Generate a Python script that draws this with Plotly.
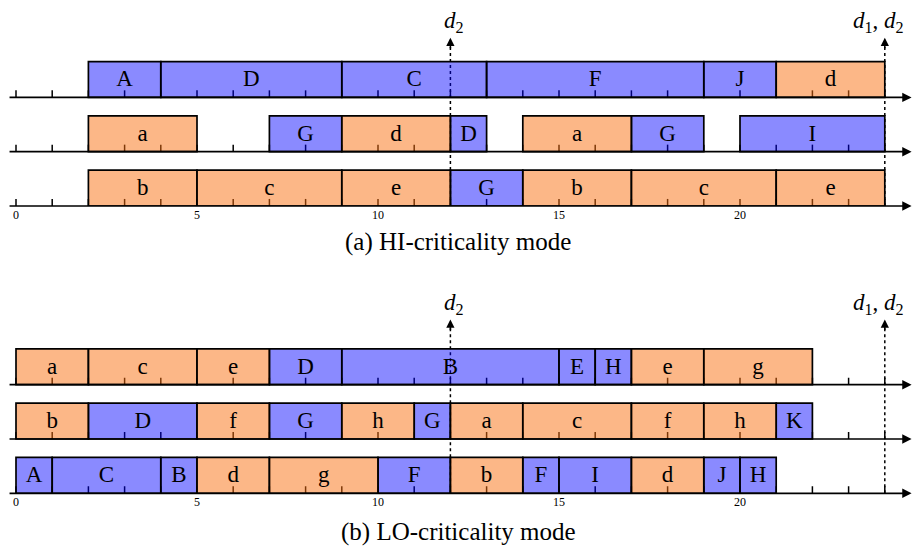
import plotly.graph_objects as go

# ---------------- data ----------------
# (a) HI-criticality mode: three processor rows, top to bottom
hi_row1_labels = ["A", "D", "C", "F", "J", "d"]
hi_row1_start = [2, 4, 9, 13, 19, 21]
hi_row1_end = [4, 9, 13, 19, 21, 24]

hi_row2_labels = ["a", "G", "d", "D", "a", "G", "I"]
hi_row2_start = [2, 7, 9, 12, 14, 17, 20]
hi_row2_end = [5, 9, 12, 13, 17, 19, 24]

hi_row3_labels = ["b", "c", "e", "G", "b", "c", "e"]
hi_row3_start = [2, 5, 9, 12, 14, 17, 21]
hi_row3_end = [5, 9, 12, 14, 17, 21, 24]

# (b) LO-criticality mode
lo_row1_labels = ["a", "c", "e", "D", "B", "E", "H", "e", "g"]
lo_row1_start = [0, 2, 5, 7, 9, 15, 16, 17, 19]
lo_row1_end = [2, 5, 7, 9, 15, 16, 17, 19, 22]

lo_row2_labels = ["b", "D", "f", "G", "h", "G", "a", "c", "f", "h", "K"]
lo_row2_start = [0, 2, 5, 7, 9, 11, 12, 14, 17, 19, 21]
lo_row2_end = [2, 5, 7, 9, 11, 12, 14, 17, 19, 21, 22]

lo_row3_labels = ["A", "C", "B", "d", "g", "F", "b", "F", "I", "d", "J", "H"]
lo_row3_start = [0, 1, 4, 5, 7, 10, 12, 14, 15, 17, 19, 20]
lo_row3_end = [1, 4, 5, 7, 10, 12, 14, 15, 17, 19, 20, 21]

time_ticks = list(range(0, 25))
tick_labels = [0, 5, 10, 15, 20]
deadlines_d2 = 12
deadlines_d1d2 = 24
captions = ["(a) HI-criticality mode", "(b) LO-criticality mode"]

# ---------------- styling ----------------
FONT = "Liberation Serif"
HI_FILL = "rgba(0,0,255,0.46)"
LO_FILL = "rgba(250,112,16,0.5)"
BOX_H = 0.66
TICK_H = 0.13

panels = [
    dict(rows=[(hi_row1_labels, hi_row1_start, hi_row1_end),
               (hi_row2_labels, hi_row2_start, hi_row2_end),
               (hi_row3_labels, hi_row3_start, hi_row3_end)],
         xa="x", ya="y", tip=-1.10, caption=captions[0], cap_y=1 - 242 / 554),
    dict(rows=[(lo_row1_labels, lo_row1_start, lo_row1_end),
               (lo_row2_labels, lo_row2_start, lo_row2_end),
               (lo_row3_labels, lo_row3_start, lo_row3_end)],
         xa="x2", ya="y2", tip=-1.20, caption=captions[1], cap_y=1 - 532 / 554),
]

fig = go.Figure()
shapes = []
annotations = []

for p in panels:
    xa, ya = p["xa"], p["ya"]
    for lane, (labels, starts, ends) in enumerate(p["rows"]):
        for is_hi, fill in ((True, HI_FILL), (False, LO_FILL)):
            idx = [i for i, l in enumerate(labels) if l.isupper() == is_hi]
            if not idx:
                continue
            fig.add_trace(go.Bar(
                orientation="h",
                base=[starts[i] for i in idx],
                x=[ends[i] - starts[i] for i in idx],
                y=[lane - BOX_H / 2] * len(idx),
                width=BOX_H,
                marker=dict(color=fill, line=dict(color="black", width=1.7)),
                xaxis=xa, yaxis=ya, showlegend=False, hoverinfo="skip",
            ))
        fig.add_trace(go.Scatter(
            x=[(s + e) / 2 for s, e in zip(starts, ends)],
            y=[lane - 0.31] * len(labels),
            text=labels, mode="text", textposition="middle center",
            textfont=dict(family=FONT, size=23, color="black"),
            xaxis=xa, yaxis=ya, showlegend=False, hoverinfo="skip",
        ))
        # small ticks (below boxes)
        for t in time_ticks:
            shapes.append(dict(type="line", xref=xa, yref=ya, x0=t, x1=t,
                               y0=lane, y1=lane - TICK_H, layer="below",
                               line=dict(color="black", width=1.5)))
        # time axis arrow
        annotations.append(dict(xref=xa, yref=ya, axref=xa, ayref=ya,
                                x=24.74, y=lane, ax=-0.22, ay=lane, text="",
                                showarrow=True, arrowhead=2, arrowsize=1.1,
                                arrowwidth=1.7, arrowcolor="black", standoff=0))
    # deadline arrows
    for dx, txt in ((deadlines_d2, "<i>d</i><sub>2</sub>"),
                    (deadlines_d1d2, "<i>d</i><sub>1</sub>,<i> d</i><sub>2</sub>")):
        shapes.append(dict(type="line", xref=xa, yref=ya, x0=dx, x1=dx,
                           y0=2, y1=p["tip"] + 0.1, layer="below",
                           line=dict(color="black", width=1.5, dash="dot")))
        annotations.append(dict(xref=xa, yref=ya, x=dx, y=p["tip"], ax=0, ay=12,
                                text="", showarrow=True, arrowhead=2, arrowsize=1.1,
                                arrowwidth=1.5, arrowcolor="black", standoff=0))
        annotations.append(dict(xref=xa, yref=ya, x=dx, y=p["tip"], text=txt,
                                showarrow=False, yanchor="bottom", yshift=0,
                                xshift=4 if dx == deadlines_d2 else -6,
                                font=dict(family=FONT, size=23, color="black")))
    annotations.append(dict(xref="paper", yref="paper", x=0.502, y=p["cap_y"],
                            text=p["caption"], showarrow=False,
                            xanchor="center", yanchor="middle",
                            font=dict(family=FONT, size=25, color="black")))

xrange_ = [-16 / 36.2, (913 - 16) / 36.2]
axis_x = dict(range=xrange_, tickvals=tick_labels, showgrid=False, zeroline=False,
              showline=False, ticks="", tickfont=dict(family=FONT, size=12, color="black"),
              fixedrange=True)

fig.update_layout(
    width=913, height=554,
    margin=dict(l=0, r=0, t=0, b=0),
    paper_bgcolor="white", plot_bgcolor="white",
    barmode="overlay",
    xaxis=dict(axis_x, domain=[0, 1], anchor="y"),
    yaxis=dict(domain=[1 - 206 / 554, 1], range=[2, 2 - 206 / 54.3], visible=False),
    xaxis2=dict(axis_x, domain=[0, 1], anchor="y2"),
    yaxis2=dict(domain=[1 - 493.3 / 554, 1 - 270 / 554],
                range=[2, 2 - (493.3 - 270) / 54.3], visible=False),
    shapes=shapes,
    annotations=annotations,
)

fig.write_html("out.html", config={"displayModeBar": False, "staticPlot": True},
               post_script="document.body.style.margin='0';document.body.style.overflow='hidden';")
